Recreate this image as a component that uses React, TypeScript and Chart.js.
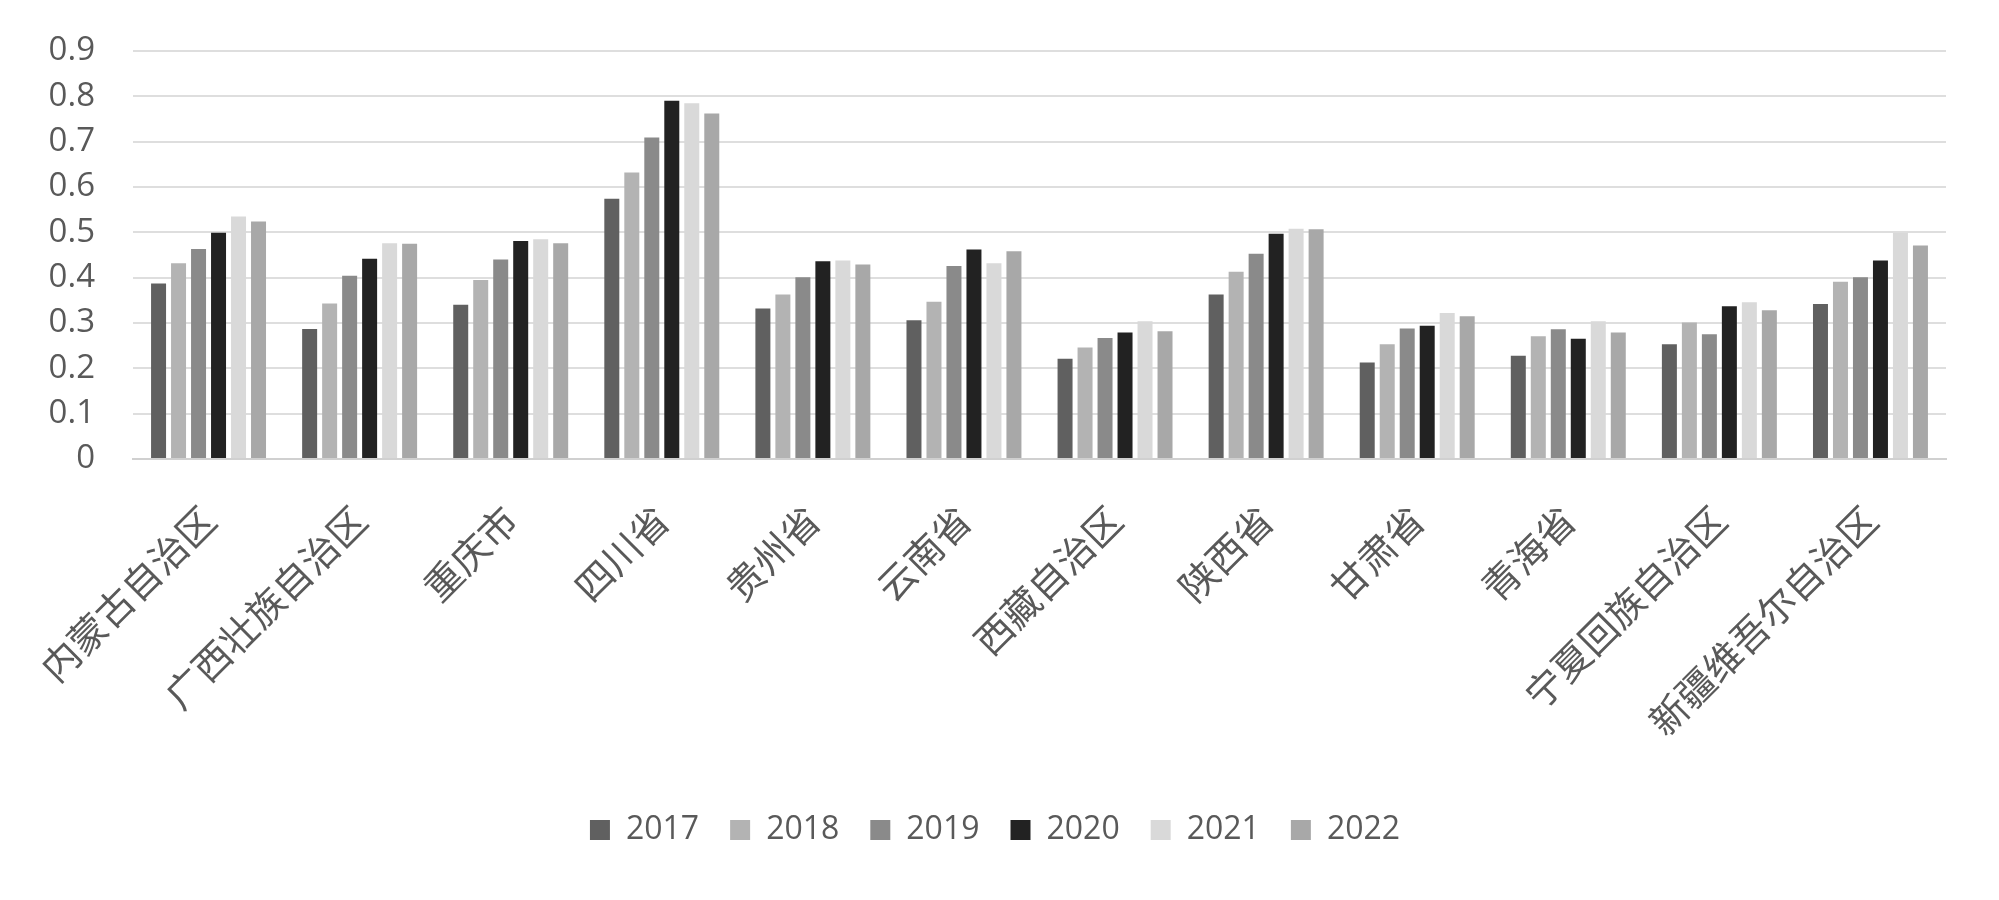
import React, { useEffect, useRef } from "react";
import { Chart, registerables } from "chart.js";

Chart.register(...registerables);

const categories = [
  "内蒙古自治区",
  "广西壮族自治区",
  "重庆市",
  "四川省",
  "贵州省",
  "云南省",
  "西藏自治区",
  "陕西省",
  "甘肃省",
  "青海省",
  "宁夏回族自治区",
  "新疆维吾尔自治区",
];

const seriesNames = ["2017", "2018", "2019", "2020", "2021", "2022"];

const s2017 = [0.387, 0.287, 0.34, 0.574, 0.332, 0.306, 0.221, 0.363, 0.213, 0.228, 0.253, 0.342];
const s2018 = [0.432, 0.343, 0.395, 0.632, 0.363, 0.347, 0.246, 0.413, 0.253, 0.271, 0.301, 0.391];
const s2019 = [0.463, 0.404, 0.44, 0.709, 0.401, 0.426, 0.267, 0.453, 0.288, 0.286, 0.275, 0.401];
const s2020 = [0.499, 0.442, 0.481, 0.79, 0.436, 0.462, 0.279, 0.497, 0.294, 0.265, 0.337, 0.438];
const s2021 = [0.535, 0.476, 0.485, 0.785, 0.438, 0.432, 0.304, 0.508, 0.322, 0.304, 0.346, 0.499];
const s2022 = [0.524, 0.475, 0.476, 0.762, 0.429, 0.458, 0.282, 0.507, 0.315, 0.279, 0.328, 0.471];

const seriesValues = [s2017, s2018, s2019, s2020, s2021, s2022];
const seriesColors = ["#606060", "#b3b3b3", "#8a8a8a", "#222222", "#d9d9d9", "#a8a8a8"];

const yTicks = [0, 0.1, 0.2, 0.3, 0.4, 0.5, 0.6, 0.7, 0.8, 0.9];
const yTickLabels = ["0", "0.1", "0.2", "0.3", "0.4", "0.5", "0.6", "0.7", "0.8", "0.9"];

const textColor = "#595959";
const latinFont = "'Open Sans', 'Liberation Sans', sans-serif";
const cjkFont = "'Noto Sans CJK SC', 'Noto Sans', sans-serif";

export default function App() {
  const canvasRef = useRef<HTMLCanvasElement | null>(null);

  useEffect(() => {
    const canvas = canvasRef.current;
    if (!canvas) return;
    const chart = new Chart(canvas, {
      type: "bar",
      data: {
        labels: categories,
        datasets: seriesNames.map((name, i) => ({
          label: name,
          data: seriesValues[i],
          backgroundColor: seriesColors[i],
          borderWidth: 0,
          categoryPercentage: 0.794,
          barPercentage: 0.75,
        })),
      },
      options: {
        responsive: false,
        animation: false,
        layout: { padding: { top: 51, right: 53, bottom: 44, left: 44 } },
        plugins: {
          legend: {
            position: "bottom",
            labels: {
              boxWidth: 20,
              boxHeight: 20,
              padding: 31,
              color: textColor,
              font: { family: latinFont, size: 32 },
            },
          },
          tooltip: { enabled: false },
        },
        scales: {
          x: {
            grid: { display: false, drawTicks: false },
            border: { display: true, color: "#d0d0d0", width: 2 },
            ticks: {
              autoSkip: false,
              maxRotation: 45,
              minRotation: 45,
              padding: 38,
              color: textColor,
              font: { family: cjkFont, size: 38 },
            },
            afterFit: (scale: any) => {
              scale.height = 324;
            },
          },
          y: {
            min: 0,
            max: 0.9,
            grid: {
              color: "#dedede",
              lineWidth: 2,
              drawTicks: true,
              tickLength: 38,
              tickColor: "rgba(0,0,0,0)",
            },
            border: { display: false },
            afterBuildTicks: (scale: any) => {
              scale.ticks = yTicks.map((v) => ({ value: v }));
            },
            ticks: {
              padding: 0,
              color: textColor,
              font: { family: latinFont, size: 33 },
              callback: (value: any) => {
                const idx = yTicks.findIndex((t) => Math.abs(t - Number(value)) < 1e-9);
                return idx >= 0 ? yTickLabels[idx] : "";
              },
            },
            afterFit: (scale: any) => {
              scale.width = 89;
            },
          },
        },
      },
    });
    return () => chart.destroy();
  }, []);

  return (
    <div style={{ position: "absolute", left: 0, top: 0, width: 1999, height: 900, background: "#fff" }}>
      <canvas ref={canvasRef} width={1999} height={900} />
    </div>
  );
}
